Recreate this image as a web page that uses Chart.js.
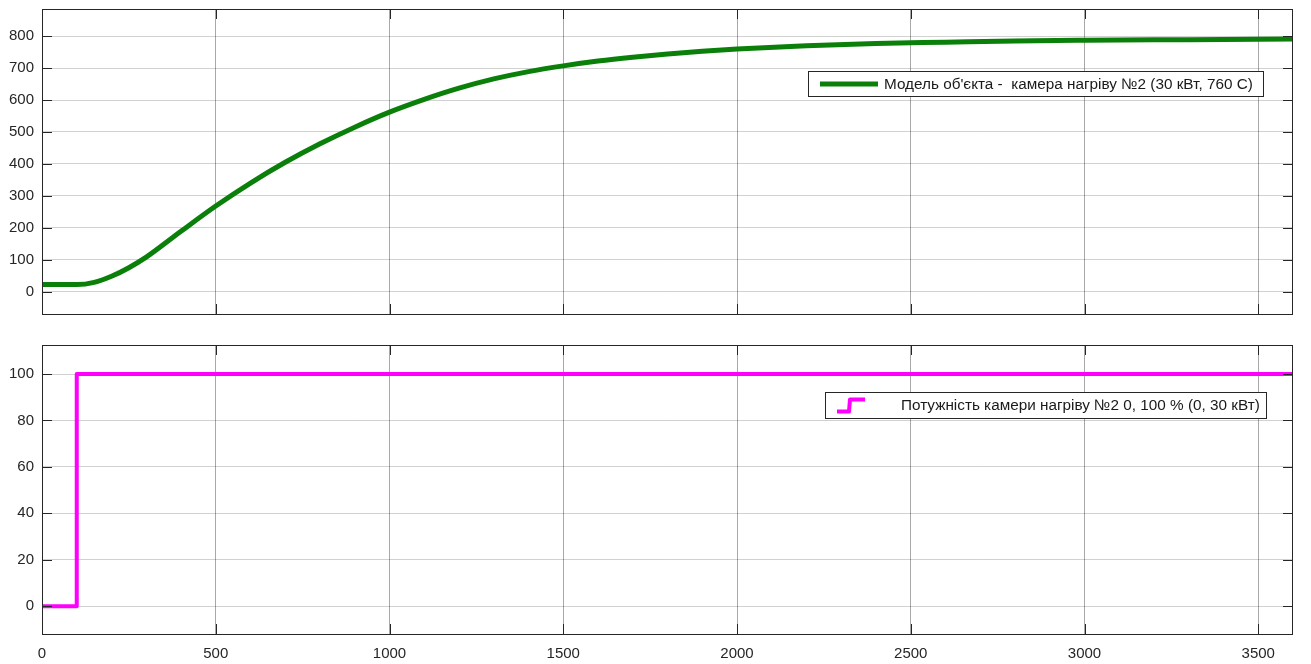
<!DOCTYPE html>
<html>
<head>
<meta charset="utf-8">
<script src="https://cdn.jsdelivr.net/npm/chart.js@4.4.0/dist/chart.umd.min.js"></script>
<style>
  html, body { margin: 0; padding: 0; background: #fff; }
  #wrap { position: relative; width: 1311px; height: 664px; overflow: hidden; }
  canvas { position: absolute; left: 0; }
  #tempChart { top: 0; }
  #powerChart { top: 330px; }
</style>
</head>
<body>
<div id="wrap">
  <canvas id="tempChart" width="1311" height="330"></canvas>
  <canvas id="powerChart" width="1311" height="334"></canvas>
</div>
<script>
// Heating chamber No.2: temperature response (top) and applied power (bottom)
const tempTime  = [0, 100, 150, 200, 250, 300, 400, 500, 600, 700, 800, 900, 1000,
                   1100, 1200, 1300, 1400, 1500, 1600, 1700, 1800, 1900, 2000, 2200, 2400,
                   2600, 2800, 3000, 3300, 3600];
const tempValue = [22, 22, 29, 48, 75, 108, 189, 268, 340, 405, 463, 515, 562,
                   602, 637, 666, 689, 707, 722, 734, 744, 753, 760, 770, 777,
                   781, 785, 787, 789, 791];

const powerTime  = [0, 100, 100, 3600];
const powerValue = [0, 0, 100, 100];

const timeTicks  = [0, 500, 1000, 1500, 2000, 2500, 3000, 3500];
const tempTicks  = [0, 100, 200, 300, 400, 500, 600, 700, 800];
const powerTicks = [0, 20, 40, 60, 80, 100];

const tempLabel  = "Модель об'єкта -  камера нагріву №2 (30 кВт, 760 С)";
const powerLabel = "Потужність камери нагріву №2 0, 100 % (0, 30 кВт)";

const FONT = '"Liberation Sans", Arial, Helvetica, sans-serif';
const AXIS_COLOR = '#262626';

function points(xs, ys) { return xs.map((x, i) => ({ x: x, y: ys[i] })); }
function fixedTicks(list) { return scale => { scale.ticks = list.map(v => ({ value: v })); }; }

// axes box with inward tick marks on all four sides
const framePlugin = {
  id: 'frame',
  afterDatasetsDraw(chart) {
    const { ctx, chartArea: a, scales: { x, y } } = chart;
    const len = 10;
    ctx.save();
    ctx.strokeStyle = AXIS_COLOR;
    ctx.lineWidth = 1;
    ctx.beginPath();
    x.ticks.forEach(t => {
      const px = Math.round(x.getPixelForValue(t.value)) + 0.5;
      ctx.moveTo(px, a.bottom); ctx.lineTo(px, a.bottom - len);
      ctx.moveTo(px, a.top);    ctx.lineTo(px, a.top + len);
    });
    y.ticks.forEach(t => {
      const py = Math.round(y.getPixelForValue(t.value)) + 0.5;
      ctx.moveTo(a.left, py);  ctx.lineTo(a.left + len, py);
      ctx.moveTo(a.right, py); ctx.lineTo(a.right - len, py);
    });
    ctx.stroke();
    ctx.strokeRect(Math.round(a.left) + 0.5, Math.round(a.top) + 0.5,
                   Math.round(a.right - a.left) - 1, Math.round(a.bottom - a.top));
    ctx.restore();
  }
};

// boxed legend inside the plot area
const boxLegendPlugin = {
  id: 'boxLegend',
  afterDraw(chart, args, opts) {
    const { ctx, chartArea: a } = chart;
    const ds = chart.data.datasets[0];
    const left = a.left + opts.left, top = a.top + opts.top;
    const w = opts.width, h = opts.height;
    ctx.save();
    ctx.fillStyle = '#fff';
    ctx.fillRect(left, top, w, h);
    ctx.strokeStyle = '#262626';
    ctx.lineWidth = 1;
    ctx.strokeRect(left + 0.5, top + 0.5, w - 1, h - 1);
    const cy = top + h / 2;
    ctx.strokeStyle = ds.borderColor;
    ctx.lineWidth = ds.borderWidth;
    ctx.lineJoin = 'round';
    ctx.beginPath();
    if (opts.icon === 'step') {
      ctx.moveTo(left + 12, cy + 6);
      ctx.lineTo(left + 24, cy + 6);
      ctx.lineTo(left + 25, cy - 6);
      ctx.lineTo(left + 40, cy - 6);
    } else {
      ctx.moveTo(left + 12, cy);
      ctx.lineTo(left + 70, cy);
    }
    ctx.stroke();
    ctx.fillStyle = '#1a1a1a';
    ctx.font = '15.3px ' + FONT;
    ctx.textBaseline = 'middle';
    ctx.textAlign = 'left';
    ctx.fillText(ds.label, left + opts.textX, cy + 0.5);
    ctx.restore();
  }
};

function makeOptions(cfg) {
  return {
    responsive: false,
    animation: false,
    events: [],
    layout: { padding: cfg.padding },
    plugins: {
      legend: { display: false },
      tooltip: { enabled: false },
      boxLegend: cfg.legend
    },
    scales: {
      x: {
        type: 'linear',
        min: 0, max: 3600,
        afterBuildTicks: fixedTicks(timeTicks),
        afterFit: s => { s.height = cfg.xHeight; s.paddingLeft = 0; s.paddingRight = 0; },
        border: { display: false },
        grid: { color: 'rgba(0,0,0,0.34)', lineWidth: 1, drawTicks: false },
        ticks: {
          display: cfg.showX,
          padding: 11,
          color: AXIS_COLOR,
          font: { family: FONT, size: 15 },
          maxRotation: 0,
          callback: v => String(v)
        }
      },
      y: {
        type: 'linear',
        min: cfg.yMin, max: cfg.yMax,
        afterBuildTicks: fixedTicks(cfg.yTicks),
        afterFit: s => { s.width = 42; s.paddingTop = 0; s.paddingBottom = 0; },
        border: { display: false },
        grid: { color: 'rgba(0,0,0,0.18)', lineWidth: 1, drawTicks: false },
        ticks: {
          padding: 8,
          color: AXIS_COLOR,
          font: { family: FONT, size: 15 },
          callback: v => String(v)
        }
      }
    }
  };
}

new Chart(document.getElementById('tempChart'), {
  type: 'line',
  data: {
    datasets: [{
      label: tempLabel,
      data: points(tempTime, tempValue),
      borderColor: '#0a800a',
      borderWidth: 5,
      pointRadius: 0,
      fill: false,
      cubicInterpolationMode: 'monotone',
      borderCapStyle: 'round',
      borderJoinStyle: 'round'
    }]
  },
  options: makeOptions({
    padding: { top: 9, right: 18, left: 0, bottom: 0 },
    xHeight: 16,
    showX: false,
    yMin: -70, yMax: 885,
    yTicks: tempTicks,
    legend: { left: 766, top: 62, width: 456, height: 26, icon: 'line', textX: 76 }
  }),
  plugins: [framePlugin, boxLegendPlugin]
});

new Chart(document.getElementById('powerChart'), {
  type: 'line',
  data: {
    datasets: [{
      label: powerLabel,
      data: points(powerTime, powerValue),
      borderColor: '#ff00ff',
      borderWidth: 4,
      pointRadius: 0,
      fill: false,
      tension: 0,
      borderJoinStyle: 'round'
    }]
  },
  options: makeOptions({
    padding: { top: 15, right: 18, left: 0, bottom: 0 },
    xHeight: 30,
    showX: true,
    yMin: -12, yMax: 112.5,
    yTicks: powerTicks,
    legend: { left: 783, top: 47, width: 442, height: 27, icon: 'step', textX: 76 }
  }),
  plugins: [framePlugin, boxLegendPlugin]
});
</script>
</body>
</html>
